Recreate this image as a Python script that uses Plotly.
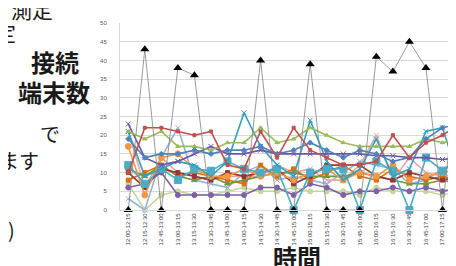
import plotly.graph_objects as go

categories = ["12:00-12:15", "12:15-12:30", "12:45-13:00", "13:00-13:15", "13:15-13:30",
              "13:30-13:45", "13:45-14:00", "14:00-14:15", "14:15-14:30", "14:30-14:45",
              "14:45-15:00", "15:00-15:15", "15:15-15:30", "15:30-15:45", "15:45-16:00",
              "16:00-16:15", "16:15-16:30", "16:30-16:45", "16:45-17:00", "17:00-17:15",
              "17:15-17:30"]

blue_diamond = [19, 14, 15, 15, 16, 15, 16, 16, 17, 15, 16, 18, 16, 14, 16, 15, 13, 14, 19, 22, 23]
red_square = [10, 22, 22, 21, 20, 21, 12, 11, 21, 14, 22, 16, 14, 12, 12, 13, 20, 14, 18, 20, 23]
green_triangle = [21, 19, 21, 17, 17, 16, 18, 18, 22, 18, 19, 22, 20, 18, 17, 17, 17, 17, 19, 18, 19]
purple_x = [23, 14, 12, 13, 15, 17, 15, 15, 16, 15, 15, 15, 15, 15, 15, 14.5, 14.5, 14, 14, 13.5, 14]
teal_star = [21, 9, 11, 13, 12, 9, 13, 26, 17, 12, 9, 24, 13, 8, 11, 19, 9, 11, 21, 22, 8]
orange_circle = [17, 4, 14, 15, 11, 9, 9, 11, 9, 10, 8, 10, 11, 8, 10, 9, 12, 8, 9, 10, 11]
cyan_square = [12, 7, 11, 8, 11, 10.5, 13, 11, 10, 11, 0, 10, 11, 11, 0, 13, 10.5, 0, 14, 10.5, 14]
darkred_square = [10, 6, 11, 10, 9, 8, 10, 9, 10, 11, 7, 9, 12, 12, 12, 9, 8, 10, 9, 8, 9]
olive_triangle = [11, 9, 12, 9, 8, 9, 7, 8, 9, 10, 10, 9, 9, 9, 10, 9, 8, 7, 7, 8, 7]
darkpurple_circle = [6, 7, 10, 4, 4, 4, 4, 4, 6, 6, 4, 7, 6, 4, 5, 5, 6, 5, 6, 5, 6]
lightgreen_circle = [7, 0, 4, 5, 4, 4, 5, 6, 5, 5, 6, 5, 5, 5, 4, 6, 5, 5, 5, 4, 5]
pink_x = [21, 6, 14, 10, 9, 8, 9, 9, 9, 12, 10, 11, 8, 8, 12, 20, 8, 14, 10, 9, 10]
lightblue_x = [3, 0, 14, 22, 8, 7, 6, 10, 12, 8, 9, 8, 7, 10, 13, 12, 11, 7, 8, 11, 12]
darkorange = [8, 10, 12, 9, 10, 9, 8, 7, 12, 9, 11, 8, 10, 12, 9, 8, 11, 9, 8, 9, 8]
black_triangle = [0, 43, 0, 38, 36, 0, 0, 0, 40, 0, 0, 39, 0, 0, 0, 41, 37, 45, 38, 0, 42]

series = [
    (lightgreen_circle, "#C3D69B", "circle", 5),
    (darkpurple_circle, "#7E5FA8", "circle", 5),
    (lightblue_x, "#95B3D7", "x-thin-open", 5),
    (pink_x, "#E6A9A8", "x-thin-open", 5),
    (darkorange, "#E46C0A", "square", 4),
    (olive_triangle, "#77933C", "triangle-up", 5),
    (darkred_square, "#953735", "square", 4),
    (orange_circle, "#F79646", "circle", 6),
    (cyan_square, "#4BACC6", "square", 7),
    (teal_star, "#31A0BE", "x-thin-open", 5),
    (purple_x, "#6A55A8", "x-thin-open", 5),
    (green_triangle, "#9BBB59", "triangle-up", 4),
    (blue_diamond, "#4F81BD", "diamond", 4),
    (red_square, "#C0504D", "square", 3),
]

fig = go.Figure()
for vals, col, sym, sz in series:
    fig.add_trace(go.Scatter(
        x=categories, y=vals, mode="lines+markers",
        line=dict(color=col, width=1.6),
        marker=dict(color=col, symbol=sym, size=sz, line=dict(color=col, width=1)),
        cliponaxis=False, showlegend=False))

fig.add_trace(go.Scatter(
    x=categories, y=black_triangle, mode="lines+markers",
    line=dict(color="#808080", width=0.8),
    marker=dict(color="#000000", symbol="triangle-up", size=8),
    cliponaxis=False, showlegend=False))

PL, PT, PW, PH = 112, 15, 456 - 112, 266 - 15 - 64

fig.update_layout(
    width=456, height=266,
    margin=dict(l=PL, r=0, t=PT, b=64),
    paper_bgcolor="white", plot_bgcolor="white",
    font=dict(family="Noto Sans CJK JP, Noto Sans, sans-serif"),
    xaxis=dict(type="category", range=[-0.5, 20.3], showgrid=False,
               tickangle=-90, tickfont=dict(size=6, color="#404040", family="Liberation Sans"),
               ticks="", showline=True, linecolor="#d9d9d9", linewidth=1),
    yaxis=dict(range=[0, 50], dtick=5, showgrid=True, gridcolor="#d9d9d9", gridwidth=1,
               tickfont=dict(size=6, color="#595959", family="Liberation Sans"),
               ticks="", showline=True, linecolor="#d9d9d9", zeroline=False,
               ticklabelstandoff=11),
)

texts = [
    ("測定", 47, 1, 21, "normal", "right"),
    ("定", 10, 24, 21, "normal", "right"),
    ("接続", 47, 54, 24, "bold", "center"),
    ("端末数", 46, 84, 24, "bold", "center"),
    ("で", 42, 125, 20, "normal", "center"),
    ("ます", 33, 152, 20, "normal", "right"),
    (")", 9, 221, 20, "normal", "right"),
    ("時間", 289, 249, 24, "bold", "center"),
]
for t, px, py, s, w, anc in texts:
    fig.add_annotation(text=t, x=(px - PL) / PW, y=1 - (py - PT) / PH,
                       xref="paper", yref="paper",
                       xanchor=anc, yanchor="middle", showarrow=False,
                       font=dict(size=s, color="#1a1a1a", family="Noto Sans CJK JP",
                                 weight=w))

fig.write_html("out.html")
